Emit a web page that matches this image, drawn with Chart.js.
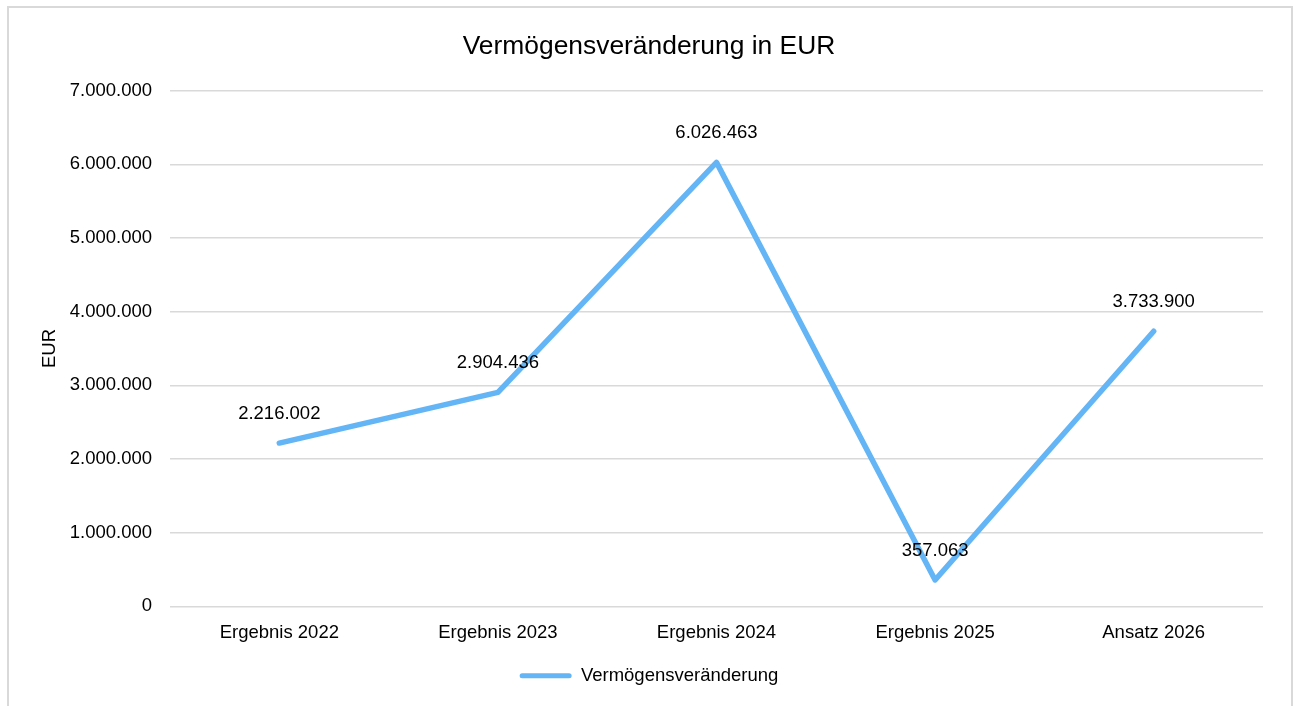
<!DOCTYPE html>
<html>
<head>
<meta charset="utf-8">
<script src="https://cdn.jsdelivr.net/npm/chart.js@4.4.1/dist/chart.umd.min.js"></script>
<style>
  html, body { margin: 0; padding: 0; background: #ffffff; overflow: hidden; }
  #frame { position: absolute; left: 7px; top: 6px; width: 1282px; height: 800px; border: 2px solid #d9d9d9; box-sizing: content-box; }
  #wrap { position: absolute; left: 0; top: 0; width: 1293px; height: 706px; }
</style>
</head>
<body>
<div id="frame"></div>
<div id="wrap"><canvas id="c" width="1293" height="706"></canvas></div>
<script>
const categories = ["Ergebnis 2022", "Ergebnis 2023", "Ergebnis 2024", "Ergebnis 2025", "Ansatz 2026"];
const seriesName = "Vermögensveränderung";
const seriesValues = [2216002, 2904436, 6026463, 357063, 3733900];
const chartTitle = "Vermögensveränderung in EUR";
const yAxisTitle = "EUR";
const yMin = 0, yMax = 7000000, yStep = 1000000;

const FONT = '"Liberation Sans", Arial, Helvetica, sans-serif';
const LINE_COLOR = 'rgb(99,181,246)';

function fmtDE(v) {
  const s = Math.round(Math.abs(v)).toString();
  const out = s.replace(/\B(?=(\d{3})+(?!\d))/g, '.');
  return (v < 0 ? '-' : '') + out;
}

const dataLabels = {
  id: 'dataLabels',
  afterDatasetsDraw(chart) {
    const ctx = chart.ctx;
    const meta = chart.getDatasetMeta(0);
    ctx.save();
    ctx.font = '18.5px ' + FONT;
    ctx.fillStyle = '#000000';
    ctx.textAlign = 'center';
    ctx.textBaseline = 'middle';
    meta.data.forEach((el, i) => {
      ctx.fillText(fmtDE(seriesValues[i]), el.x, el.y - 29);
    });
    ctx.restore();
  }
};

new Chart(document.getElementById('c'), {
  type: 'line',
  data: {
    labels: categories,
    datasets: [{
      label: seriesName,
      data: seriesValues,
      borderColor: LINE_COLOR,
      backgroundColor: LINE_COLOR,
      borderWidth: 5.5,
      borderCapStyle: 'round',
      borderJoinStyle: 'round',
      pointRadius: 0,
      pointHoverRadius: 0,
      tension: 0,
      fill: false
    }]
  },
  options: {
    responsive: false,
    animation: false,
    devicePixelRatio: 1,
    layout: { padding: { left: 35, right: 30, top: 0, bottom: 11 } },
    plugins: {
      title: {
        display: true,
        text: chartTitle,
        color: '#000000',
        font: { family: FONT, size: 26.4, weight: 'normal' },
        padding: { top: 31, bottom: 28 }
      },
      legend: {
        display: true,
        position: 'bottom',
        labels: {
          color: '#000000',
          font: { family: FONT, size: 18.5 },
          boxWidth: 52,
          boxHeight: 5,
          padding: 6,
          generateLabels(chart) {
            return [{
              text: seriesName,
              fillStyle: LINE_COLOR,
              strokeStyle: LINE_COLOR,
              lineWidth: 0,
              borderRadius: 2.5,
              datasetIndex: 0
            }];
          }
        }
      },
      tooltip: { enabled: false }
    },
    scales: {
      x: {
        type: 'category',
        offset: true,
        grid: { display: false, drawTicks: false },
        border: { display: false },
        ticks: {
          color: '#000000',
          font: { family: FONT, size: 18.5 },
          padding: 16,
          maxRotation: 0,
          autoSkip: false
        }
      },
      y: {
        min: yMin,
        max: yMax,
        grid: { color: '#d9d9d9', lineWidth: 1.5, drawTicks: false },
        border: { display: false },
        ticks: {
          stepSize: yStep,
          color: '#000000',
          font: { family: FONT, size: 18.5 },
          padding: 18,
          callback: (v) => fmtDE(v)
        },
        title: {
          display: true,
          text: yAxisTitle,
          color: '#000000',
          font: { family: FONT, size: 18.5 },
          padding: { top: 4, bottom: 4 }
        },
        afterFit(scale) { scale.width = 135; }
      }
    }
  },
  plugins: [dataLabels]
});
</script>
</body>
</html>
